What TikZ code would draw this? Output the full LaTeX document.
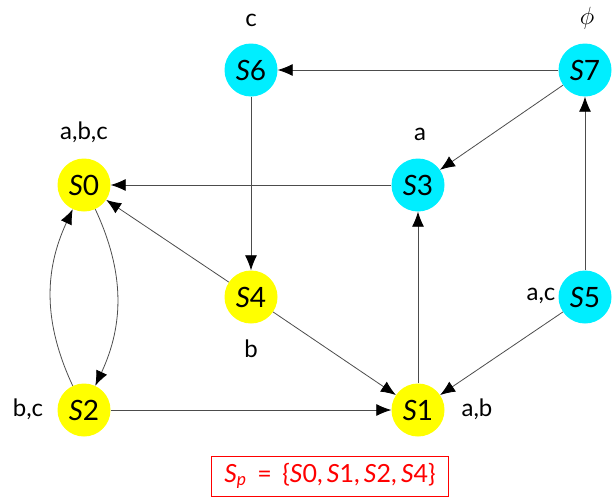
\documentclass[tikz,border=0pt]{standalone}
\usepackage{fontspec}
\setmainfont{Lato}
\usetikzlibrary{arrows.meta}
\definecolor{stcyan}{RGB}{0,238,255}
\definecolor{styellow}{RGB}{255,255,0}
\begin{document}
\begin{tikzpicture}[
  x=1pt, y=-1pt,
  state/.style={circle, minimum size=53pt, inner sep=0pt,
                font=\fontsize{28}{30}\selectfont},
  good/.style={state, fill=styellow},
  bad/.style={state, fill=stcyan},
  lab/.style={font=\fontsize{24}{28}\selectfont, inner sep=0pt},
  arrow/.style={-{Latex[length=15pt,width=12pt,color=black]}, draw=black!70, line width=0.8pt}
]
\useasboundingbox (0,0) rectangle (616,498);
% states
\node[bad]  (s6) at (251,70)  {\textit{S}6};
\node[bad]  (s7) at (585,70)  {\textit{S}7};
\node[good] (s0) at (84,185)  {\textit{S}0};
\node[bad]  (s3) at (418,185) {\textit{S}3};
\node[good] (s4) at (251,297) {\textit{S}4};
\node[bad]  (s5) at (585,297) {\textit{S}5};
\node[good] (s2) at (84,410)  {\textit{S}2};
\node[good] (s1) at (418,410) {\textit{S}1};
% labels
\node[lab] (l6) at (251,20)  {c};
\node[lab, font=\fontsize{28}{30}\selectfont] (l7) at (587,18) {$\phi$};
\node[lab] (l0) at (84,132)  {a,b,c};
\node[lab] (l3) at (420,134) {a};
\node[lab] (l4) at (251,349) {b};
\node[lab] (l5) at (541,296) {a,c};
\node[lab] (l2) at (28,409)  {b,c};
\node[lab] (l1) at (477,409) {a,b};
% transitions
\draw[arrow] (s7) -- (s6);
\draw[arrow] (s7) -- (s3);
\draw[arrow] (s3) -- (s0);
\draw[arrow] (s6) -- (s4);
\draw[arrow] (s4) -- (s0);
\draw[arrow] (s4) -- (s1);
\draw[arrow] (s1) -- (s3);
\draw[arrow] (s5) -- (s7);
\draw[arrow] (s5) -- (s1);
\draw[arrow] (s2) -- (s1);
\draw[arrow] (s0) to[bend left=25] (s2);
\draw[arrow] (s2) to[bend left=25] (s0);
% result
\node[draw=red, text=red, minimum width=237pt, minimum height=40pt,
      font=\fontsize{25}{28}\selectfont] (sp) at (330,476)
  {\textit{S}\textsubscript{\textit{p}}\ \,=\ \,\{\textit{S}0,\,\textit{S}1,\,\textit{S}2,\,\textit{S}4\}};
\end{tikzpicture}
\end{document}
